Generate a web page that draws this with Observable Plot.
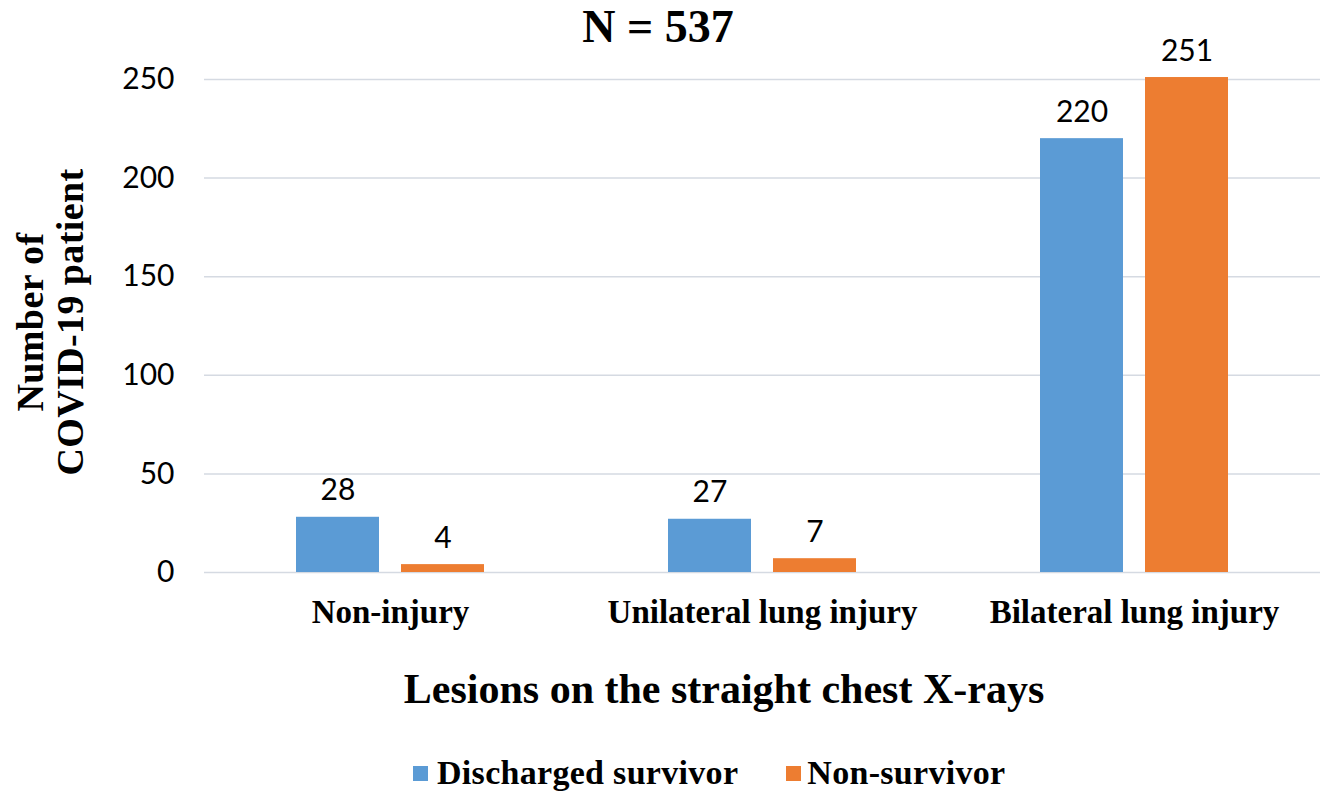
<!DOCTYPE html>
<html>
<head>
<meta charset="utf-8">
<script src="https://cdn.jsdelivr.net/npm/d3@7"></script>
<script src="https://cdn.jsdelivr.net/npm/@observablehq/plot@0.6"></script>
<style>
  body { margin: 0; background: white; }
  #wrap { position: relative; width: 1333px; height: 798px; overflow: hidden; }
  .serif { font-family: "Liberation Serif", "Times New Roman", serif; font-weight: bold; color: #000; }
  #title { position: absolute; top: 0; left: 0; width: 1316px; text-align: center; font-size: 46px; line-height: normal; }
  #chart { position: absolute; top: 0; left: 0; }
  #ylabel { position: absolute; left: 50px; top: 322px; transform: translate(-50%, -50%) rotate(-90deg); text-align: center; font-size: 38px; line-height: 40px; letter-spacing: 0.4px; white-space: nowrap; }
  #xlabel { position: absolute; left: 724px; top: 668px; transform: translateX(-50%); font-size: 42px; line-height: 42px; white-space: nowrap; }
  #legend { position: absolute; left: 413px; top: 756px; display: flex; align-items: center; font-size: 34px; line-height: 34px; letter-spacing: 0.3px; white-space: nowrap; }
  .sw { width: 15px; height: 15px; display: inline-block; }
</style>
</head>
<body>
<div id="wrap">
  <div id="chart"></div>
  <div id="title" class="serif"></div>
  <div id="ylabel" class="serif"></div>
  <div id="xlabel" class="serif"></div>
  <div id="legend" class="serif"></div>
</div>
<script>
const title = "N = 537";
const yLabelLines = ["Number of", "COVID-19 patient"];
const xLabel = "Lesions on the straight chest X-rays";
const categories = ["Non-injury", "Unilateral lung injury", "Bilateral lung injury"];
const series = ["Discharged survivor", "Non-survivor"];
const discharged = [28, 27, 220];
const nonSurvivor = [4, 7, 251];
const yTicks = [0, 50, 100, 150, 200, 250];
const colors = ["#5B9BD5", "#ED7D31"];

const data = [];
categories.forEach((c, i) => {
  data.push({category: c, series: series[0], value: discharged[i]});
  data.push({category: c, series: series[1], value: nonSurvivor[i]});
});

document.getElementById("title").textContent = title;
document.getElementById("ylabel").innerHTML = yLabelLines.join("<br>");
document.getElementById("xlabel").textContent = xLabel;

const legend = document.getElementById("legend");
series.forEach((s, i) => {
  const sw = document.createElement("span");
  sw.className = "sw";
  sw.style.background = colors[i];
  sw.style.marginRight = i === 0 ? "9px" : "6px";
  const t = document.createElement("span");
  t.textContent = s;
  if (i === 0) t.style.marginRight = "48px";
  legend.appendChild(sw);
  legend.appendChild(t);
});

const chart = Plot.plot({
  width: 1333,
  height: 650,
  marginTop: 79,
  marginBottom: 78,
  marginLeft: 204,
  marginRight: 13,
  style: {fontFamily: "Lato, sans-serif", fontSize: "30px", color: "#000", background: "transparent", overflow: "visible"},
  fx: {domain: categories, padding: 0, label: null},
  x: {domain: series, paddingInner: 0.2085, paddingOuter: 0.867, axis: null},
  y: {domain: [0, 250], label: null},
  color: {domain: series, range: colors},
  marks: [
    Plot.ruleY(yTicks, {stroke: "#d5dae2", strokeWidth: 1.5}),
    Plot.axisY({ticks: yTicks, tickSize: 0, tickPadding: 30, fontSize: 30, label: null}),
    Plot.axisFx({anchor: "bottom", tickSize: 0, tickPadding: 27, fontSize: 33, fontFamily: "Liberation Serif, serif", fontWeight: "bold", label: null}),
    Plot.barY(data, {fx: "category", x: "series", y: "value", fill: "series"}),
    Plot.text(data, {fx: "category", x: "series", y: "value", text: d => String(d.value), lineAnchor: "bottom", dy: -17, fontSize: 30, fill: "#000"})
  ]
});
document.getElementById("chart").appendChild(chart);
</script>
</body>
</html>
